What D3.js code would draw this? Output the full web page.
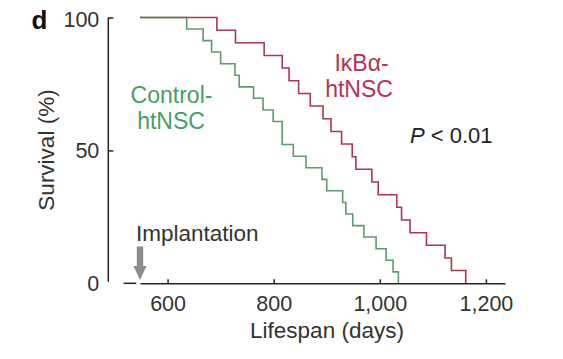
<!DOCTYPE html>
<html>
<head>
<meta charset="utf-8">
<script src="https://cdn.jsdelivr.net/npm/d3@7/dist/d3.min.js"></script>
<style>
  html, body { margin: 0; padding: 0; background: #fff; }
  svg { display: block; font-family: "Liberation Sans", Arial, Helvetica, sans-serif; }
</style>
</head>
<body>
<svg id="chart" width="563" height="359"></svg>
<script>
// ---- data ----
const xTicks = [600, 800, 1000, 1200];
const yTicks = [0, 50, 100];
const implantationDay = 548;
const axisBreakDays = [517, 541];

const controlDays = [548, 636, 667, 683, 700, 727, 735, 762, 780, 799, 816, 837, 861, 891, 900, 930, 936, 949, 970, 993, 1012, 1025, 1035];
const controlSurvival = [100, 95.7, 91.3, 87.0, 82.6, 78.3, 73.9, 69.6, 65.2, 60.9, 52.2, 47.8, 43.5, 39.1, 34.8, 30.4, 26.1, 21.7, 17.4, 13.0, 8.7, 4.3, 0];

const ikbDays = [548, 693, 728, 782, 816, 829, 847, 869, 893, 908, 928, 948, 955, 985, 997, 1032, 1041, 1057, 1088, 1123, 1135, 1162];
const ikbSurvival = [100, 95.2, 90.5, 85.7, 81.0, 76.2, 71.4, 66.7, 61.9, 57.1, 52.4, 47.6, 42.9, 38.1, 33.3, 28.6, 23.8, 19.0, 14.3, 9.5, 4.8, 0];

// ---- drawing ----
const svg = d3.select("#chart");
const x = d3.scaleLinear().domain([548, 1236]).range([140, 505]);
const y = d3.scaleLinear().domain([0, 100]).range([283.3, 17.5]);
const axisColor = "#222";
const tickFont = 21.5;
const labelFont = 22.5;

// x axis
const gx = svg.append("g").attr("transform", `translate(0,${y(0)})`)
  .call(d3.axisBottom(x).tickValues(xTicks).tickSize(-4).tickSizeOuter(0)
        .tickPadding(12).tickFormat(d3.format(",")));
gx.select(".domain").attr("stroke", axisColor).attr("stroke-width", 1.5);
gx.selectAll(".tick line").attr("stroke", axisColor).attr("stroke-width", 1.5);
gx.selectAll(".tick text").attr("font-size", tickFont).attr("fill", "#333")
  .attr("font-family", "Liberation Sans, Arial, sans-serif");

// axis break dash
svg.append("line")
  .attr("x1", x(axisBreakDays[0])).attr("x2", x(axisBreakDays[1]))
  .attr("y1", y(0)).attr("y2", y(0))
  .attr("stroke", axisColor).attr("stroke-width", 1.5);

// y axis
const gy = svg.append("g").attr("transform", "translate(108.3,0)")
  .call(d3.axisLeft(y).tickValues(yTicks).tickSize(-5).tickSizeOuter(0).tickPadding(9));
gy.select(".domain").attr("stroke", axisColor).attr("stroke-width", 1.5)
  .attr("d", `M0,${y(0) - 1.5}V${y(100)}`);
gy.selectAll(".tick line").attr("stroke", axisColor).attr("stroke-width", 1.5);
gy.selectAll(".tick").filter(d => d === 0).select("line").remove();
gy.selectAll(".tick text").attr("font-size", tickFont).attr("fill", "#333")
  .attr("font-family", "Liberation Sans, Arial, sans-serif");
gy.selectAll(".tick").filter(d => d === 100).select("text").attr("y", 2.5);

// survival curves
const line = d3.line().x(d => x(d[0])).y(d => y(d[1])).curve(d3.curveStepAfter);
const ikbData = ikbDays.map((d, i) => [d, ikbSurvival[i]]);
const controlData = controlDays.map((d, i) => [d, controlSurvival[i]]);

svg.append("path").datum(ikbData).attr("d", line)
  .attr("fill", "none").attr("stroke", "#a8394f").attr("stroke-width", 1.6);
svg.append("path").datum(controlData).attr("d", line)
  .attr("fill", "none").attr("stroke", "#3f8a58").attr("stroke-width", 1.6)
  .attr("stroke-opacity", 0.85);

// implantation arrow
const ax = x(implantationDay);
svg.append("path")
  .attr("d", `M${ax - 3.2},246.5 H${ax + 3.2} V266 H${ax + 6.5} L${ax},280 L${ax - 6.5},266 H${ax - 3.2} Z`)
  .attr("fill", "#8c8c8c");
svg.append("text").attr("x", 136).attr("y", 240.5)
  .attr("font-size", labelFont).attr("fill", "#333").text("Implantation");

// panel letter
svg.append("text").attr("x", 31.5).attr("y", 28.5)
  .attr("font-size", 26).attr("font-weight", "bold").attr("fill", "#111").text("d");

// axis titles
svg.append("text").attr("x", 327).attr("y", 338)
  .attr("text-anchor", "middle").attr("font-size", labelFont).attr("fill", "#333")
  .text("Lifespan (days)");
svg.append("text").attr("transform", "translate(53.5,150) rotate(-90)")
  .attr("text-anchor", "middle").attr("font-size", labelFont).attr("fill", "#333")
  .text("Survival (%)");

// series labels
const greenText = "#46a062";
const redText = "#b8324f";
const seriesFont = 23;
svg.append("text").attr("x", 171.5).attr("y", 103).attr("text-anchor", "middle")
  .attr("font-size", seriesFont).attr("fill", greenText).text("Control-");
svg.append("text").attr("x", 171).attr("y", 128.5).attr("text-anchor", "middle")
  .attr("font-size", seriesFont).attr("fill", greenText).text("htNSC");
svg.append("text").attr("x", 361.5).attr("y", 70.5).attr("text-anchor", "middle")
  .attr("font-size", seriesFont).attr("fill", redText).text("IκBα-");
svg.append("text").attr("x", 359).attr("y", 96.5).attr("text-anchor", "middle")
  .attr("font-size", seriesFont).attr("fill", redText).text("htNSC");

// P value
const pt = svg.append("text").attr("x", 410).attr("y", 143)
  .attr("font-size", 22).attr("fill", "#222");
pt.append("tspan").attr("font-style", "italic").text("P");
pt.append("tspan").text(" < 0.01");
</script>
</body>
</html>
